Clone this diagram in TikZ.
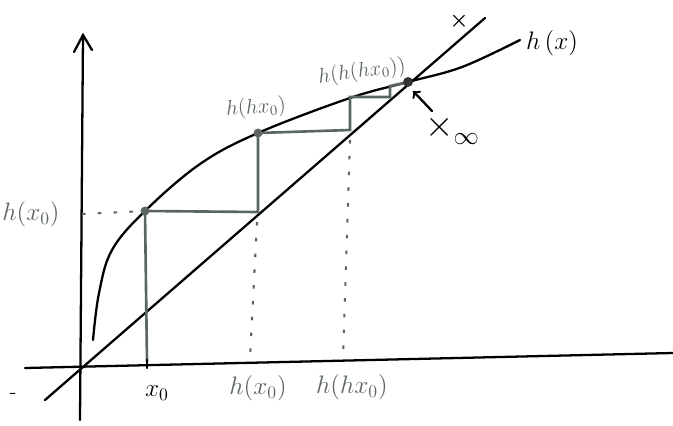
\documentclass[tikz,border=0pt]{standalone}
\usepackage{amsmath}
\definecolor{pencil}{HTML}{5B6563}
\tikzset{
  ink/.style={line width=1.3pt, line cap=round},
  web/.style={pencil, line width=1.5pt},
  dotline/.style={pencil, line width=1.2pt, dash pattern=on 2pt off 7pt},
  lbl/.style={font=\Large},
  glbl/.style={font=\Large, text=pencil},
  pt/.style={circle, fill=pencil, inner sep=1.8pt}
}
\begin{document}
\begin{tikzpicture}[x=0.02cm, y=-0.02cm]
  \useasboundingbox (0,0) rectangle (673,426);
  % axes
  \coordinate (ybot) at (80,420);
  \coordinate (ytop) at (83,35);
  \coordinate (xleft) at (25,368);
  \coordinate (xright) at (673,353);
  \draw[ink] (ybot) -- (ytop);
  \draw[ink] (74,52) -- (ytop) -- (92,50);
  \draw[ink] (xleft) -- (xright);
  \node[font=\large] (dash) at (13,396) {-};
  % diagonal
  \coordinate (dlow) at (45,400);
  \coordinate (dhigh) at (485,18);
  \draw[ink] (dlow) -- (dhigh);
  \node[font=\large] (xdiag) at (459,21) {$\boldsymbol{\times}$};
  % curve h(x)
  \coordinate (p0) at (145,211);
  \coordinate (p1) at (258,133);
  \coordinate (p2) at (350,97);
  \coordinate (pinf) at (408,82);
  \draw[ink] plot[smooth, tension=0.6] coordinates {(93,340) (99,293) (112,250) (145,211) (200,164) (258,133) (350,98) (408,82) (462,67) (520,40)};
  \node[lbl, anchor=west] (hx) at (520,43) {$h\,(x)$};
  % cobweb
  \coordinate (x0) at (147,362);
  \coordinate (q0) at (258,212);
  \coordinate (q1) at (350,130);
  \coordinate (c1) at (390,97);
  \coordinate (c2) at (390,86);
  \draw[web] (x0) -- (p0) -- (q0) -- (p1) -- (q1) -- (p2) -- (c1) -- (c2) -- (pinf);
  \draw[ink] (147,360) -- (147,368);
  \draw[dotline] (82,214) -- (p0);
  \draw[dotline] (257,222) -- (250,358);
  \draw[dotline] (350,140) -- (343,358);
  \node[pt] (dot0) at (p0) {};
  \node[pt] (dot1) at (p1) {};
  \node[pt, fill=black!80, inner sep=2pt] (dotinf) at (pinf) {};
  % fixed point
  \node (xinf) at (452,130) {\huge$\times$\raisebox{-0.5ex}{\Large$\infty$}};
  \coordinate (arrtail) at (432,111);
  \draw[ink, ->] (arrtail) -- (413,91);
  % labels
  \node[glbl] (lh0) at (31,214) {$h(x_0)$};
  \node[glbl, font=\large, rotate=5] (lh1) at (256,108) {$h(hx_0)$};
  \node[glbl, font=\large, rotate=8] (lh2) at (362,72) {$h(h(hx_0))$};
  \node[lbl] (lx0) at (157,393) {$x_0$};
  \node[glbl] (bh0) at (258,388) {$h(x_0)$};
  \node[glbl] (bh1) at (352,387) {$h(hx_0)$};
\end{tikzpicture}
\end{document}
